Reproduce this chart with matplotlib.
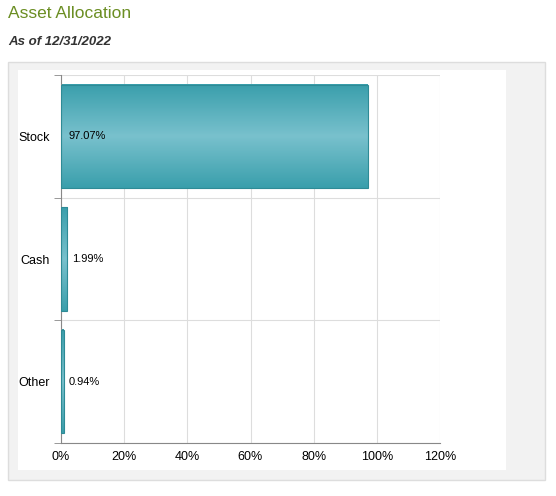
import numpy as np
import matplotlib.pyplot as plt
from matplotlib.patches import Rectangle
from matplotlib.colors import LinearSegmentedColormap

categories = ["Stock", "Cash", "Other"]
values = [97.07, 1.99, 0.94]
labels = ["97.07%", "1.99%", "0.94%"]
xticks = [0, 20, 40, 60, 80, 100, 120]

fig = plt.figure(figsize=(5.56, 4.96), dpi=100)
fig.patch.set_facecolor("white")

# grey frame + white panel, kept behind the axes
fig.patches.append(Rectangle((8/556, 1-480/496), 537/556, 418/496, transform=fig.transFigure,
                             facecolor="#f2f2f2", edgecolor="#dddddd", lw=1, zorder=-3))
fig.patches.append(Rectangle((18/556, 1-470/496), 488/556, 400/496, transform=fig.transFigure,
                             facecolor="white", edgecolor="none", zorder=-2))

fig.text(8/556, 1-14/496, "Asset Allocation", color="#6b8e23", fontsize=12.5,
         family="Liberation Sans", va="center")
fig.text(8/556, 1-42/496, "As of 12/31/2022", color="#333333", fontsize=9.5,
         family="Liberation Sans", weight="bold", style="italic", va="center")

ax = fig.add_axes([61/556, 53/496, 379/556, 368/496])
ax.set_zorder(1)
ax.set_facecolor("none")
ax.set_xlim(0, 120)
ax.set_ylim(len(categories) - 0.5, -0.5)

cmap = LinearSegmentedColormap.from_list("g", ["#3a9fac", "#79c1cd", "#3a9fac"])
grad = np.linspace(0, 1, 100).reshape(-1, 1)
h = 0.84
for i, (v, lab) in enumerate(zip(values, labels)):
    ax.imshow(grad, cmap=cmap, aspect="auto", extent=(0, v, i + h/2, i - h/2), zorder=2)
    ax.add_patch(Rectangle((0, i - h/2), v, h, facecolor="none", edgecolor="#2e8b96", lw=0.8, zorder=3))
    ax.text(v + 1.5 if v < 10 else 2.5, i, lab, va="center", fontsize=8,
            family="Liberation Sans", zorder=4)
ax.set_xlim(0, 120)
ax.set_ylim(len(categories) - 0.5, -0.5)

ax.set_xticks(xticks)
ax.set_xticklabels([f"{t}%" for t in xticks], family="Liberation Sans", fontsize=9)
ax.set_yticks(range(len(categories)))
ax.set_yticklabels(categories, family="Liberation Sans", fontsize=9)
ax.set_yticks([-0.5, 0.5, 1.5, 2.5], minor=True)
ax.tick_params(axis="y", which="major", length=0, pad=8)
ax.tick_params(axis="y", which="minor", length=5, color="#888888")
ax.tick_params(axis="x", length=0, pad=6)
ax.grid(True, axis="x", color="#dddddd", lw=0.8, zorder=0)
ax.grid(True, axis="y", which="minor", color="#dddddd", lw=0.8, zorder=0)
ax.set_axisbelow(True)
for s in ["top", "right"]:
    ax.spines[s].set_visible(False)
ax.spines["left"].set_color("#888888")
ax.spines["bottom"].set_color("#888888")

fig.savefig("out.png", dpi=100)
